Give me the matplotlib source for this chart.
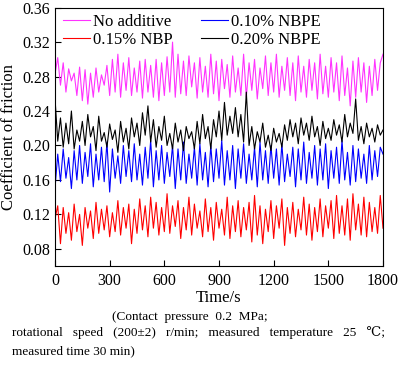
import numpy as np
import matplotlib
matplotlib.use("Agg")
import matplotlib.pyplot as plt

plt.rcParams['font.family'] = ['Liberation Serif', 'DejaVu Serif']

# sampling times (s)
time_s = np.arange(0, 1801, 15)

no_additive = [0.283, 0.302, 0.270, 0.296, 0.262, 0.289, 0.275, 0.284, 0.258, 0.291,
               0.252, 0.288, 0.248, 0.284, 0.256, 0.290, 0.262, 0.282, 0.270, 0.293,
               0.258, 0.300, 0.262, 0.306, 0.256, 0.296, 0.264, 0.302, 0.258, 0.290,
               0.262, 0.298, 0.255, 0.300, 0.262, 0.293, 0.256, 0.300, 0.252, 0.296,
               0.258, 0.303, 0.262, 0.320, 0.256, 0.306, 0.260, 0.298, 0.258, 0.304,
               0.268, 0.296, 0.255, 0.302, 0.262, 0.292, 0.256, 0.306, 0.260, 0.298,
               0.252, 0.300, 0.266, 0.294, 0.256, 0.304, 0.262, 0.290, 0.258, 0.306,
               0.256, 0.296, 0.264, 0.300, 0.254, 0.290, 0.266, 0.304, 0.258, 0.296,
               0.262, 0.306, 0.256, 0.292, 0.264, 0.302, 0.258, 0.296, 0.252, 0.304,
               0.262, 0.292, 0.256, 0.300, 0.264, 0.296, 0.254, 0.306, 0.260, 0.292,
               0.256, 0.302, 0.262, 0.296, 0.252, 0.304, 0.258, 0.290, 0.246, 0.298,
               0.256, 0.302, 0.262, 0.296, 0.250, 0.292, 0.258, 0.300, 0.264, 0.296, 0.306]

nbpe_010 = [0.150, 0.190, 0.158, 0.196, 0.162, 0.186, 0.150, 0.194, 0.160, 0.200,
            0.156, 0.192, 0.164, 0.202, 0.152, 0.190, 0.160, 0.198, 0.158, 0.204,
            0.146, 0.196, 0.162, 0.188, 0.156, 0.200, 0.164, 0.194, 0.158, 0.202,
            0.160, 0.190, 0.154, 0.198, 0.162, 0.206, 0.152, 0.194, 0.160, 0.200,
            0.156, 0.192, 0.164, 0.200, 0.150, 0.196, 0.160, 0.204, 0.156, 0.190,
            0.162, 0.198, 0.154, 0.202, 0.160, 0.192, 0.152, 0.200, 0.158, 0.196,
            0.162, 0.206, 0.154, 0.194, 0.160, 0.200, 0.150, 0.196, 0.162, 0.202,
            0.156, 0.190, 0.160, 0.198, 0.152, 0.204, 0.160, 0.194, 0.156, 0.200,
            0.162, 0.196, 0.154, 0.202, 0.158, 0.190, 0.164, 0.198, 0.152, 0.196,
            0.160, 0.204, 0.156, 0.192, 0.162, 0.200, 0.154, 0.196, 0.160, 0.202,
            0.150, 0.194, 0.162, 0.198, 0.156, 0.206, 0.160, 0.192, 0.154, 0.200,
            0.158, 0.196, 0.162, 0.190, 0.156, 0.200, 0.160, 0.194, 0.164, 0.198, 0.190]

nbp_015 = [0.115, 0.130, 0.086, 0.128, 0.098, 0.122, 0.090, 0.132, 0.100, 0.120,
           0.084, 0.128, 0.104, 0.124, 0.092, 0.134, 0.098, 0.126, 0.102, 0.130,
           0.094, 0.122, 0.100, 0.136, 0.096, 0.128, 0.104, 0.132, 0.086, 0.126,
           0.098, 0.138, 0.102, 0.130, 0.094, 0.140, 0.104, 0.134, 0.096, 0.128,
           0.100, 0.144, 0.098, 0.130, 0.106, 0.136, 0.092, 0.128, 0.102, 0.140,
           0.096, 0.132, 0.104, 0.124, 0.094, 0.138, 0.100, 0.128, 0.090, 0.134,
           0.104, 0.126, 0.096, 0.140, 0.092, 0.130, 0.100, 0.136, 0.094, 0.128,
           0.102, 0.134, 0.088, 0.142, 0.096, 0.130, 0.086, 0.126, 0.100, 0.136,
           0.092, 0.130, 0.104, 0.138, 0.084, 0.128, 0.098, 0.134, 0.094, 0.126,
           0.102, 0.140, 0.096, 0.132, 0.090, 0.128, 0.100, 0.138, 0.094, 0.130,
           0.104, 0.136, 0.092, 0.142, 0.098, 0.130, 0.096, 0.138, 0.090, 0.144,
           0.102, 0.132, 0.096, 0.140, 0.094, 0.134, 0.100, 0.128, 0.098, 0.142, 0.104]

nbpe_020 = [0.255, 0.205, 0.232, 0.198, 0.226, 0.202, 0.240, 0.196, 0.218, 0.205,
            0.228, 0.200, 0.236, 0.210, 0.222, 0.194, 0.234, 0.205, 0.215, 0.198,
            0.225, 0.207, 0.218, 0.192, 0.228, 0.204, 0.220, 0.196, 0.232, 0.210,
            0.226, 0.200, 0.238, 0.212, 0.246, 0.204, 0.230, 0.198, 0.222, 0.206,
            0.234, 0.200, 0.214, 0.196, 0.226, 0.204, 0.218, 0.194, 0.222, 0.208,
            0.216, 0.196, 0.228, 0.202, 0.236, 0.208, 0.222, 0.196, 0.230, 0.210,
            0.240, 0.206, 0.250, 0.212, 0.234, 0.214, 0.244, 0.210, 0.236, 0.204,
            0.262, 0.200, 0.222, 0.196, 0.216, 0.204, 0.226, 0.198, 0.212, 0.194,
            0.220, 0.204, 0.214, 0.198, 0.224, 0.206, 0.230, 0.210, 0.226, 0.202,
            0.232, 0.212, 0.226, 0.206, 0.234, 0.210, 0.222, 0.200, 0.228, 0.208,
            0.220, 0.206, 0.230, 0.212, 0.224, 0.204, 0.236, 0.210, 0.226, 0.214,
            0.254, 0.206, 0.222, 0.202, 0.226, 0.210, 0.220, 0.204, 0.224, 0.212, 0.218]

fig = plt.figure(figsize=(4.0, 3.65), dpi=100)
ax = fig.add_axes([0.1375, 0.271, 0.82, 0.708])

ax.plot(time_s, no_additive, color='#ff33ff', lw=0.8, label='No additive')
ax.plot(time_s, nbp_015, color='#ff0000', lw=0.8, label='0.15% NBP')
ax.plot(time_s, nbpe_010, color='#0000ff', lw=0.8, label='0.10% NBPE')
ax.plot(time_s, nbpe_020, color='black', lw=0.8, label='0.20% NBPE')

ax.set_xlim(0, 1800)
ax.set_ylim(0.06, 0.36)
ax.set_xticks(range(0, 1801, 300))
ax.set_yticks([0.08, 0.12, 0.16, 0.20, 0.24, 0.28, 0.32, 0.36])
ax.set_yticklabels(['0.08', '0.12', '0.16', '0.20', '0.24', '0.28', '0.32', '0.36'])
ax.tick_params(direction='in', labelsize=11.5, length=4, width=0.8)
ax.tick_params(axis='x', pad=5)
for s in ax.spines.values():
    s.set_linewidth(0.8)

ax.set_xlabel('Time/s', fontsize=12, labelpad=1)
ax.set_ylabel('Coefficient of friction', fontsize=12, labelpad=4)

ax.legend(ncol=2, frameon=False, loc='upper left', bbox_to_anchor=(0.004, 1.0),
          fontsize=12, handlelength=1.6, handletextpad=0.2, columnspacing=1.7,
          labelspacing=0.1, borderaxespad=0.0)

fig.text(0.475, 0.1315, '(Contact  pressure  0.2  MPa;', fontsize=9.5, ha='center', va='center')
fig.text(0.03, 0.0877,
         'rotational   speed   (200\u00b12)   r/min;   measured   temperature   25   \u2103;',
         fontsize=9.5, ha='left', va='center')
fig.text(0.03, 0.038, 'measured time 30 min)', fontsize=9.5, ha='left', va='center')

fig.savefig('out.png', dpi=100)
